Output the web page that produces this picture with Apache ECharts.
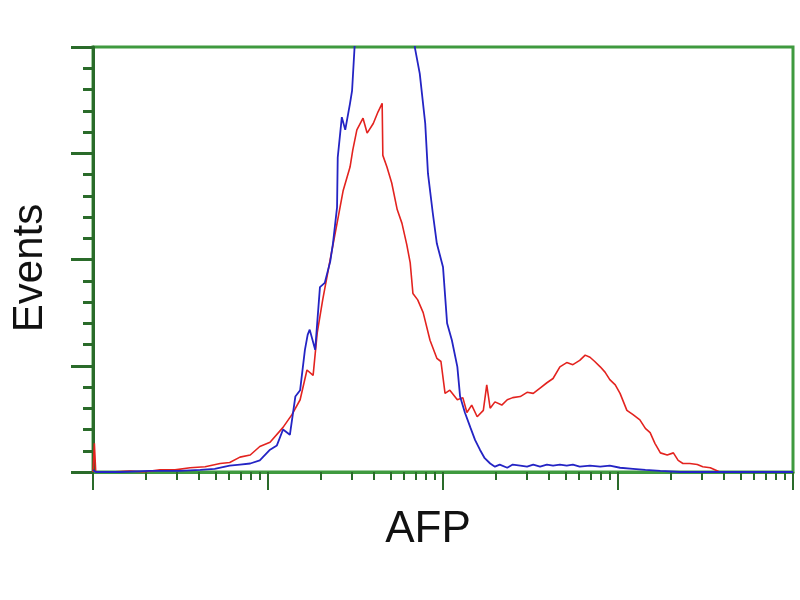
<!DOCTYPE html>
<html>
<head>
<meta charset="utf-8">
<script src="https://cdn.jsdelivr.net/npm/echarts@6/dist/echarts.min.js"></script>
<style>html,body{margin:0;padding:0;background:#fff}#c{width:800px;height:600px}</style>
</head>
<body>
<div id="c"></div>
<script>
// Histogram channels (0..1024, 256 channels per decade)
const redChannels = [0,2,2,4,25,54,73,98,120,142,164,186,200,215,230,244,259,278,291,303,313,322,328,336,347,357,366,376,380,386,395,401,410,417,423,424,430,437,445,452,459,464,468,475,483,493,503,509,515,522,533,541,547,554,562,571,576,581,588,598,606,614,625,635,644,654,664,673,683,693,702,712,720,727,734,742,749,756,764,771,781,790,800,808,815,822,830,840,849,856,863,873,884,892,903,917,947,1024];
const redCounts   = [0,0,27,0,0,1,0,2,2,4,5,8,9,14,16,24,28,42,54,68,96,91,131,162,200,234,265,287,303,322,333,319,328,339,347,298,287,272,247,234,214,197,168,162,150,124,107,104,74,77,68,70,56,63,52,58,82,60,66,63,68,70,71,75,74,79,84,88,99,103,101,105,110,108,104,99,94,87,82,74,58,54,49,41,37,27,18,16,18,11,8,8,7,5,4,0,0,0];
const blueChannels = [0,4,40,83,127,157,178,200,215,230,244,259,269,278,288,296,303,310,314,317,325,332,339,347,351,357,358,364,369,376,379,383,398,420,442,464,471,478,486,490,497,503,512,518,525,533,537,544,552,559,566,573,581,588,595,606,614,625,635,644,654,664,673,683,693,702,712,727,742,756,771,790,808,830,859,1024];
const blueCounts   = [2,0,0,1,1,2,3,6,7,8,11,21,25,40,35,71,77,115,129,134,115,174,178,198,215,249,296,334,322,347,359,404,444,463,470,448,399,375,328,281,244,215,193,140,124,99,71,56,42,30,21,13,8,5,7,4,7,6,5,7,5,7,6,7,6,7,5,6,5,6,4,3,2,1,0,0];
const decades = [0,1,2,3,4];
const minorMultiples = [2,3,4,5,6,7,8,9];
const yTicks = [0,100,200,300,400];

const CH_PER_DECADE = 256;
const toPts = (ch, v) => ch.map((c, i) => [c / CH_PER_DECADE, v[i]]);
const minorPos = [];
decades.slice(0, -1).forEach(d => minorMultiples.forEach(m => minorPos.push(d + Math.log10(m))));

const chart = echarts.init(document.getElementById('c'), null, {renderer: 'canvas'});
const tickDark = '#2a6b2a';
chart.setOption({
  animation: false,
  backgroundColor: '#ffffff',
  grid: {left: 93, right: 7, top: 47, bottom: 128, show: true, borderColor: '#3f9a3f', borderWidth: 3, backgroundColor: 'transparent', containLabel: false},
  xAxis: [
    {type: 'value', min: decades[0], max: decades[decades.length-1], interval: 1, position: 'bottom',
     axisLine: {show: true, onZero: false, lineStyle: {color: '#3f9a3f', width: 3}},
     axisTick: {show: true, length: 18, lineStyle: {color: tickDark, width: 2}},
     axisLabel: {show: false}, splitLine: {show: false}},
    {type: 'value', min: decades[0], max: decades[decades.length-1], position: 'bottom',
     axisLine: {show: false, onZero: false},
     axisTick: {show: true, length: 8, customValues: minorPos, lineStyle: {color: tickDark, width: 2}},
     axisLabel: {show: false}, splitLine: {show: false}}
  ],
  yAxis: {type: 'value', min: yTicks[0], max: yTicks[yTicks.length-1], interval: 100,
    axisLine: {show: true, lineStyle: {color: tickDark, width: 3}},
    axisTick: {show: true, length: 22, lineStyle: {color: tickDark, width: 3}},
    minorTick: {show: true, splitNumber: 5, length: 10, lineStyle: {color: tickDark, width: 3}},
    axisLabel: {show: false}, splitLine: {show: false}},
  series: [
    {type: 'line', data: toPts(redChannels, redCounts), symbol: 'none', clip: true,
     lineStyle: {color: '#e3231f', width: 1.6}},
    {type: 'line', data: toPts(blueChannels, blueCounts), symbol: 'none', clip: true,
     lineStyle: {color: '#2424c4', width: 1.8}}
  ],
  graphic: [
    {type: 'text', style: {text: 'AFP', x: 428, y: 530, font: '44px "Liberation Sans", Arial, sans-serif', fill: '#111', textAlign: 'center', textVerticalAlign: 'middle'}},
    {type: 'text', rotation: Math.PI/2, x: 30, y: 268, style: {text: 'Events', x: 0, y: 0, font: '42px "Liberation Sans", Arial, sans-serif', fill: '#111', textAlign: 'center', textVerticalAlign: 'middle'}}
  ]
});
</script>
</body>
</html>
